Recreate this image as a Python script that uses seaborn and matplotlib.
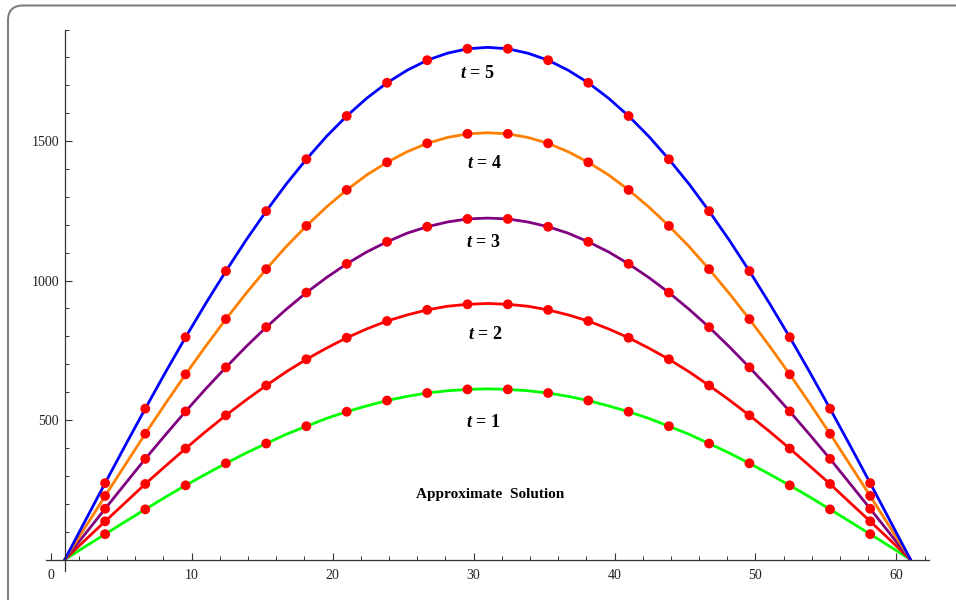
import pandas as pd
import matplotlib
matplotlib.use("Agg")
import matplotlib.pyplot as plt
import seaborn as sns
from matplotlib.patches import FancyBboxPatch
from matplotlib.ticker import MultipleLocator, FixedLocator

# node positions along x
x_nodes = [3.86, 6.71, 9.57, 12.43, 15.29, 18.14, 21.0, 23.86, 26.71, 29.57,
           32.43, 35.29, 38.14, 41.0, 43.86, 46.71, 49.57, 52.43, 55.29, 58.14]
x_ends = [1.0, 61.0]

# red dots (approximate solution at the nodes)
u_t1 = [91, 180, 266, 345, 416, 478, 530, 570, 597, 610,
        610, 597, 570, 530, 478, 416, 345, 266, 180, 91]
u_t2 = [137, 271, 398, 517, 624, 718, 795, 855, 895, 915,
        915, 895, 855, 795, 718, 624, 517, 398, 271, 137]
u_t3 = [182, 361, 531, 689, 833, 957, 1060, 1139, 1193, 1221,
        1221, 1193, 1139, 1060, 957, 833, 689, 531, 361, 182]
u_t4 = [228, 451, 664, 862, 1041, 1196, 1325, 1424, 1492, 1526,
        1526, 1492, 1424, 1325, 1196, 1041, 862, 664, 451, 228]
u_t5 = [274, 541, 797, 1034, 1249, 1435, 1590, 1709, 1790, 1831,
        1831, 1790, 1709, 1590, 1435, 1249, 1034, 797, 541, 274]

# curve readings between the nodes
x_mid = [2.43, 5.29, 8.14, 11.0, 13.86, 16.71, 19.57, 22.43, 25.29, 28.14, 31.0,
         33.86, 36.71, 39.57, 42.43, 45.29, 48.14, 51.0, 53.86, 56.71, 59.57]
c_t1 = [46, 136, 224, 306, 382, 449, 506, 551, 585, 605, 612,
        605, 585, 551, 506, 449, 382, 306, 224, 136, 46]
c_t2 = [69, 204, 335, 459, 572, 673, 758, 827, 877, 908, 918,
        908, 877, 827, 758, 673, 572, 459, 335, 204, 69]
c_t3 = [91, 272, 447, 612, 763, 897, 1011, 1103, 1170, 1210, 1224,
        1210, 1170, 1103, 1011, 897, 763, 612, 447, 272, 91]
c_t4 = [114, 340, 559, 765, 954, 1122, 1264, 1379, 1462, 1513, 1530,
        1513, 1462, 1379, 1264, 1122, 954, 765, 559, 340, 114]
c_t5 = [137, 409, 671, 918, 1145, 1346, 1517, 1654, 1754, 1815, 1836,
        1815, 1754, 1654, 1517, 1346, 1145, 918, 671, 409, 137]

names = ["t = 1", "t = 2", "t = 3", "t = 4", "t = 5"]
dots = dict(zip(names, [u_t1, u_t2, u_t3, u_t4, u_t5]))
mids = dict(zip(names, [c_t1, c_t2, c_t3, c_t4, c_t5]))
colors = {"t = 1": "#00ff00", "t = 2": "#ff0000", "t = 3": "#800080",
          "t = 4": "#ff8000", "t = 5": "#0000ff"}

# label anchors (data coords)
label_x = [30.7, 30.8, 30.7, 30.8, 30.3]
label_y = [490, 808, 1138, 1421, 1744]

# long-form tables
rows = []
for name in names:
    pts = list(zip(x_ends, [0, 0])) + list(zip(x_nodes, dots[name])) + list(zip(x_mid, mids[name]))
    for x, y in sorted(pts):
        rows.append({"x": x, "u": y, "t": name})
lines_df = pd.DataFrame(rows)
pts_df = pd.DataFrame([{"x": x, "u": y, "t": name}
                       for name in names
                       for x, y in zip(x_nodes, dots[name])])

sns.set_style("white")
plt.rcParams["font.family"] = ["Liberation Serif", "DejaVu Serif"]
plt.rcParams["mathtext.fontset"] = "custom"
plt.rcParams["mathtext.it"] = "Liberation Serif:italic:bold"
plt.rcParams["mathtext.rm"] = "Liberation Serif:bold"

fig = plt.figure(figsize=(9.56, 6.0), dpi=100)
ax = fig.add_axes([0.0486, 0.0488, 0.923, 0.902])

# outer frame (only top and left edges fall inside the image)
frame = FancyBboxPatch((0.08, -0.5), 10.0, 6.445,
                       boxstyle="round,pad=0,rounding_size=0.15",
                       transform=fig.dpi_scale_trans, fill=False,
                       edgecolor="#7f7f7f", linewidth=1.5, clip_on=False)
fig.patches.append(frame)

sns.lineplot(data=lines_df, x="x", y="u", hue="t", palette=colors,
             estimator=None, sort=False, linewidth=2.0, legend=False, ax=ax)
sns.scatterplot(data=pts_df, x="x", y="u", color="#ff0000", s=50,
                edgecolor="none", zorder=5, legend=False, ax=ax)

ax.set_xlim(-0.3, 62.3)
ax.set_ylim(-40, 1900)

for s in ["top", "right"]:
    ax.spines[s].set_visible(False)
ax.spines["left"].set_position(("data", 1))
ax.spines["bottom"].set_position(("data", 0))
for s in ["left", "bottom"]:
    ax.spines[s].set_color("#333333")
    ax.spines[s].set_linewidth(0.9)

ax.xaxis.set_major_locator(FixedLocator([0, 10, 20, 30, 40, 50, 60]))
ax.xaxis.set_minor_locator(MultipleLocator(2))
ax.yaxis.set_major_locator(FixedLocator([500, 1000, 1500]))
ax.yaxis.set_minor_locator(MultipleLocator(100))
ax.tick_params(axis="both", which="both", bottom=True, left=True)
ax.tick_params(axis="both", which="major", direction="in", length=5,
               width=0.8, color="#333333", labelsize=10, labelcolor="#222222")
ax.tick_params(axis="both", which="minor", direction="in", length=3,
               width=0.7, color="#333333")
ax.tick_params(axis="x", which="major", pad=7)
ax.tick_params(axis="y", which="major", pad=4)
ax.set_xlabel("")
ax.set_ylabel("")

for name, lx, ly in zip(names, label_x, label_y):
    ax.text(lx, ly, "$t$" + name[1:], ha="center", va="center",
            fontsize=13, fontweight="bold", color="black")
ax.text(31.2, 235, "Approximate  Solution", ha="center", va="center",
        fontsize=11, fontweight="bold", color="black")

fig.savefig("out.png", dpi=100)
